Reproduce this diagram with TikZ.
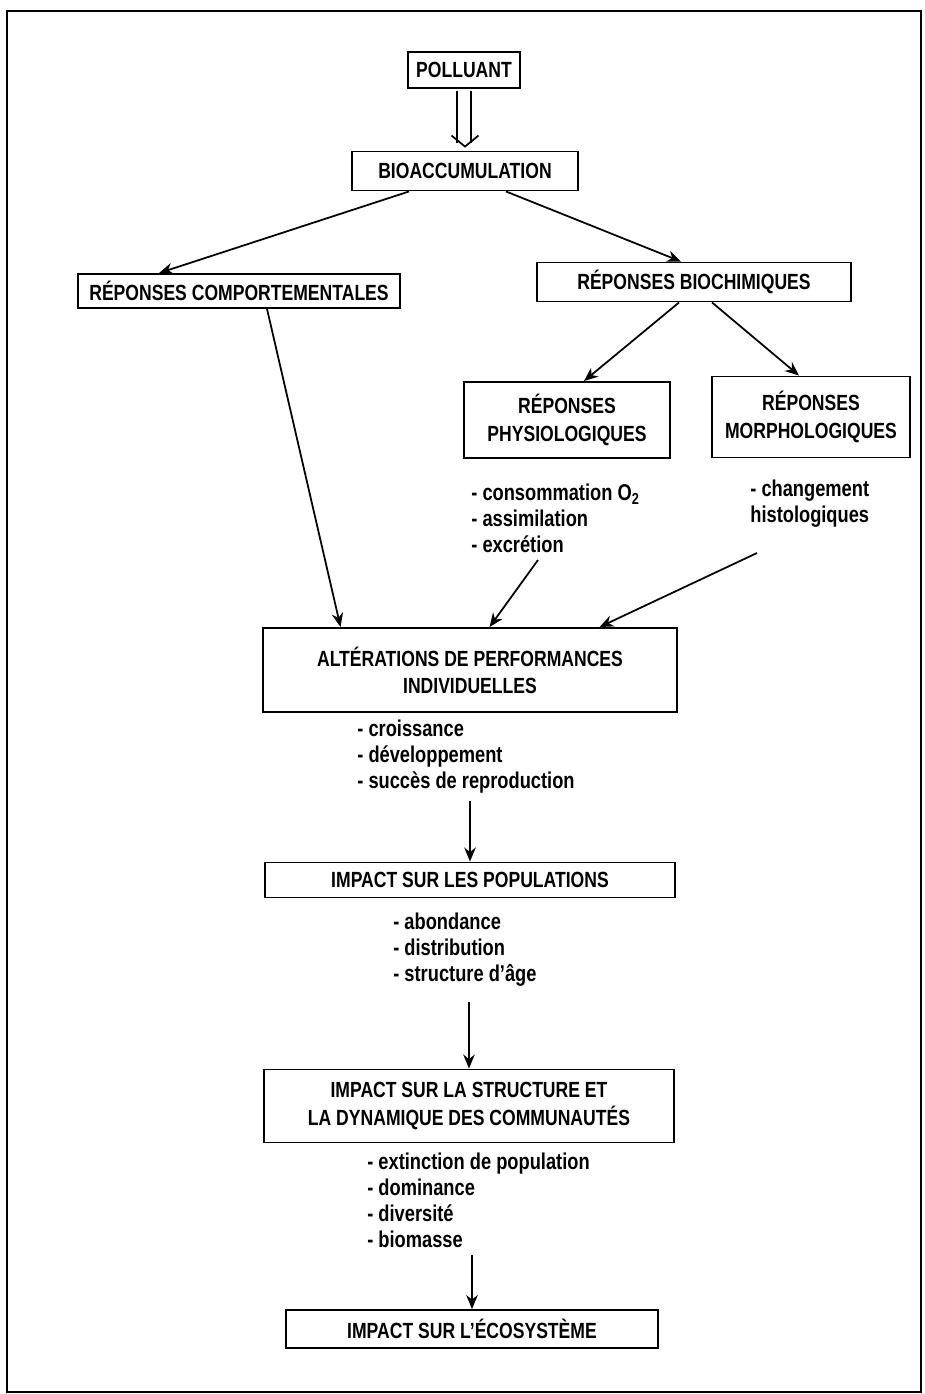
\documentclass[tikz,border=0pt]{standalone}
\usepackage{fontspec}
\setmainfont[FakeStretch=0.8]{Liberation Sans}
\usetikzlibrary{arrows.meta,positioning}
\begin{document}
\begin{tikzpicture}[x=0.02cm,y=-0.02cm,
  boite/.style={draw,line width=1.1pt,align=center,inner sep=2pt,
    font=\fontsize{12.5}{15.5}\selectfont\bfseries},
  liste/.style={align=left,inner sep=0pt,anchor=north west,
    font=\fontsize{13}{14.8}\selectfont\bfseries},
  fleche/.style={line width=1pt,-{Stealth[length=2.8mm,width=2.3mm]}}]
\useasboundingbox (0,0) rectangle (925,1394);
\draw[line width=1.3pt] (7,11) rectangle (921,1392);

\node[boite,minimum width=2.24cm,minimum height=0.72cm] (polluant) at (464,70) {POLLUANT};
\node[boite,minimum width=4.52cm,minimum height=0.78cm] (bioacc) at (465,171) {BIOACCUMULATION};
\node[boite,minimum width=6.44cm,minimum height=0.68cm] (comport) at (239,291) {RÉPONSES COMPORTEMENTALES};
\node[boite,minimum width=6.28cm,minimum height=0.78cm] (biochim) at (694,282) {RÉPONSES BIOCHIMIQUES};
\node[boite,minimum width=4.12cm,minimum height=1.52cm] (physio) at (567,420) {RÉPONSES\\PHYSIOLOGIQUES};
\node[boite,minimum width=3.96cm,minimum height=1.62cm] (morpho) at (811,417) {RÉPONSES\\MORPHOLOGIQUES};
\node[boite,minimum width=8.3cm,minimum height=1.68cm] (alter) at (470,670) {ALTÉRATIONS DE PERFORMANCES\\INDIVIDUELLES};
\node[boite,minimum width=8.22cm,minimum height=0.7cm] (pop) at (470,880) {IMPACT SUR LES POPULATIONS};
\node[boite,minimum width=8.2cm,minimum height=1.46cm] (commun) at (469,1106) {IMPACT SUR LA STRUCTURE ET\\LA DYNAMIQUE DES COMMUNAUTÉS};
\node[boite,minimum width=7.44cm,minimum height=0.76cm] (ecosys) at (472,1329) {IMPACT SUR L'ÉCOSYSTÈME};

\node[liste] (liste1) at (471,484) {- consommation O\textsubscript{2}\\- assimilation\\- excrétion};
\node[liste] (liste4) at (750,480) {- changement\\histologiques};
\node[liste] (liste2) at (357,720) {- croissance\\- développement\\- succès de reproduction};
\node[liste] (liste3) at (393,913) {- abondance\\- distribution\\- structure d'âge};
\node[liste] (liste5) at (367,1153) {- extinction de population\\- dominance\\- diversité\\- biomasse};

\coordinate (depart1) at (538,560);
\coordinate (depart2) at (757,553);

% double arrow
\draw[line width=1pt] ([xshift=-0.14cm,yshift=-0.04cm]polluant.south) -- ++(0,-1.05cm);
\draw[line width=1pt] ([xshift=0.14cm,yshift=-0.04cm]polluant.south) -- ++(0,-1.05cm);
\draw[line width=1pt] ([xshift=-0.27cm,yshift=0.3cm]bioacc.north) -- ([yshift=0.08cm]bioacc.north) -- ([xshift=0.27cm,yshift=0.3cm]bioacc.north);

\draw[fleche] ([xshift=1.16cm]bioacc.south west) -- ([xshift=1.64cm]comport.north west);
\draw[fleche] ([xshift=3.1cm]bioacc.south west) -- ([xshift=2.9cm]biochim.north west);
\draw[fleche] ([xshift=2.86cm]biochim.south west) -- ([xshift=2.42cm]physio.north west);
\draw[fleche] ([xshift=3.52cm]biochim.south west) -- ([xshift=1.76cm]morpho.north west);
\draw[fleche] ([xshift=3.8cm]comport.south west) -- ([xshift=1.58cm]alter.north west);
\draw[fleche] (depart1) -- ([xshift=4.56cm]alter.north west);
\draw[fleche] (depart2) -- ([xshift=6.76cm]alter.north west);
\draw[fleche] ([yshift=-0.14cm]pop.north |- liste2.south) -- (pop.north);
\draw[fleche] ([yshift=-0.3cm]commun.north |- liste3.south) -- (commun.north);
\draw[fleche] ([yshift=-0.12cm]ecosys.north |- liste5.south) -- (ecosys.north);
\end{tikzpicture}
\end{document}
